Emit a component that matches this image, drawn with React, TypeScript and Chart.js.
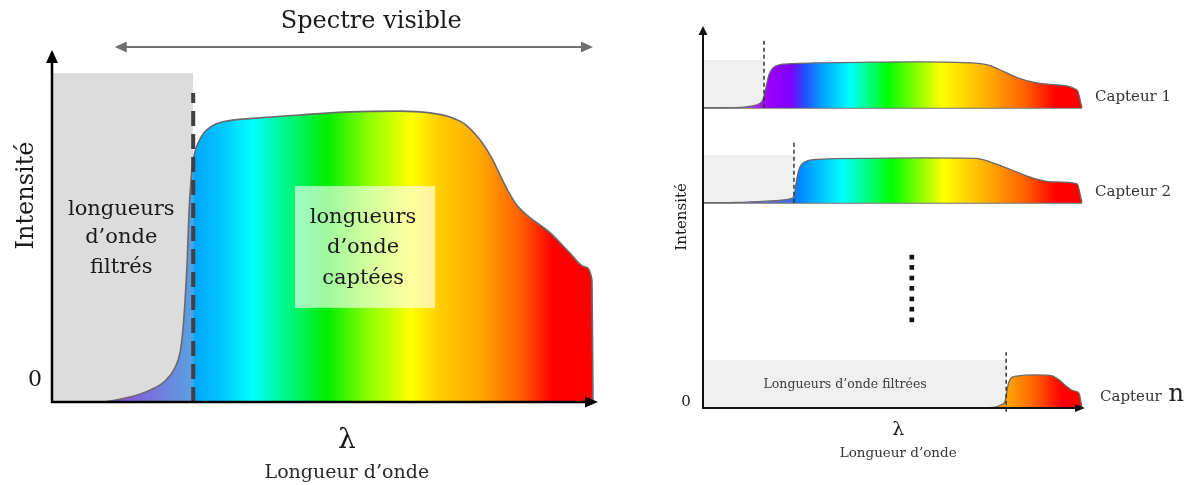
import React, { useEffect, useRef } from "react";
import { Chart, registerables } from "chart.js";
Chart.register(...registerables);

const SERIF = '"DejaVu Serif", "Liberation Serif", serif';

// ---------- LEFT PANEL DATA (relative wavelength 0-100, intensity 0-100) ----------
const leftCurveX = [9.8, 14.4, 18.1, 20.9, 22.7, 23.7, 24.2, 24.6, 25.0, 25.3, 25.7, 26.2, 27.0, 28.1, 29.6, 31.4, 37.9, 45.8, 55.1, 64.3, 69.9, 73.6, 76.3, 79.1, 81.3, 82.8, 84.3, 85.6, 86.9, 88.4, 92.1, 95.7, 98.5, 99.8, 100];
const leftCurveY = [0, 1.4, 3.4, 6.0, 9.7, 14.3, 20.6, 29.1, 40.6, 53.4, 63.4, 70.0, 74.0, 76.9, 78.9, 80.0, 81.1, 82.0, 82.9, 83.1, 82.6, 81.4, 79.4, 74.9, 69.7, 64.9, 60.3, 56.9, 54.6, 52.6, 48.3, 42.6, 38.6, 34.9, 0];
const leftGradStops = [9.8, 18.1, 25.5, 26.0, 26.4, 31.1, 37.0, 50.8, 58.8, 66.4, 71.7, 79.1, 86.5, 92.6, 100];
const leftGradColors = ["#8a45e0", "#7a72dc", "#5a9ee0", "#4aa4e8", "#00a6ff", "#00c4ff", "#00ffff", "#00ee00", "#90ff00", "#ffff00", "#ffcc00", "#ffa800", "#ff6000", "#ff0000", "#ff0000"];
const leftFilterEnd = 26.1;
const leftFilterTop = 94;
const leftCutoffTop = 88.3;
const leftSpectreFrom = 11.6;
const leftSpectreTo = 100;

// ---------- RIGHT PANEL DATA ----------
const sensorNames = ["Capteur 1", "Capteur 2", "Capteur "];
const sensorBaselines = [79, 54, 0];
const sensorCutoffs = [16.1, 24.0, 80.0];
const sensorCutoffTops = [17.9, 16.6, 14.7];
const sensorFilterTop = 12.6;

const sensor1X = [0, 10.0, 12.9, 14.8, 15.8, 16.6, 17.4, 18.5, 20.1, 23.0, 29.6, 44.1, 57.3, 71.0, 75.7, 79.4, 83.1, 86.8, 92.3, 98.7, 100];
const sensor1Y = [0, 0.1, 0.5, 1.05, 2.1, 5.3, 8.7, 10.5, 11.3, 11.6, 11.8, 12.0, 12.1, 11.8, 11.1, 9.5, 7.9, 6.8, 6.1, 4.7, 0];
const sensor2X = [0, 9.2, 17.7, 23.0, 24.0, 24.8, 25.6, 26.9, 29.6, 44.1, 57.3, 72.0, 75.7, 81.3, 86.8, 92.3, 98.7, 100];
const sensor2Y = [0, 0.1, 0.5, 1.05, 1.8, 6.6, 9.5, 10.8, 11.4, 11.7, 11.8, 11.7, 10.8, 8.7, 6.6, 5.5, 5.0, 0];
const sensorNX = [0, 75.7, 78.6, 79.7, 80.5, 81.3, 82.8, 87.6, 91.6, 93.7, 95.8, 97.9, 99.2, 100];
const sensorNY = [0, 0.1, 0.8, 1.8, 6.1, 7.9, 8.4, 8.7, 8.6, 7.6, 5.8, 4.5, 3.9, 0];

const sensor1Stops = [10.0, 16.6, 23.0, 26.6, 31.4, 38.8, 48.8, 62.8, 74.7, 85.0, 93.1, 100];
const sensor1Colors = ["#b070f0", "#a000ff", "#8000ff", "#2848ff", "#00a0ff", "#00ffff", "#00ff00", "#ffff00", "#ffb000", "#ff6000", "#ff0000", "#ff0000"];
const sensor2Stops = [9.8, 23.0, 24.8, 30.9, 36.7, 49.9, 63.6, 74.7, 85.0, 93.1, 100];
const sensor2Colors = ["#9070d0", "#4070e0", "#0080ff", "#00c0ff", "#00ffff", "#00ff00", "#ffff00", "#ffb000", "#ff6000", "#ff0000", "#ff0000"];
const sensorNStops = [78.4, 81.0, 87.6, 94.7, 100];
const sensorNColors = ["#ffa000", "#ffa000", "#ff6000", "#ff0000", "#ff0000"];

const dotsX = [55.1, 55.1, 55.1, 55.1, 55.1, 55.1, 55.1];
const dotsY = [39.7, 37.0, 34.2, 31.5, 28.7, 26.0, 23.2];

const pts = (xs: number[], ys: number[], base = 0) => xs.map((x, i) => ({ x, y: base + ys[i] }));

function makeGradient(chart: any, stops: number[], colors: string[]) {
  const { ctx, chartArea, scales } = chart;
  if (!chartArea) return colors[0];
  const sx = scales.x;
  const x0 = sx.getPixelForValue(sx.min);
  const x1 = sx.getPixelForValue(sx.max);
  const g = ctx.createLinearGradient(x0, 0, x1, 0);
  stops.forEach((s, i) => g.addColorStop(Math.min(1, Math.max(0, (s - sx.min) / (sx.max - sx.min))), colors[i]));
  return g;
}

function arrowHead(ctx: CanvasRenderingContext2D, tipX: number, tipY: number, dx: number, dy: number, len: number, half: number, color: string) {
  const bx = tipX - dx * len, by = tipY - dy * len;
  const px = -dy, py = dx;
  ctx.beginPath();
  ctx.moveTo(tipX, tipY);
  ctx.lineTo(bx + px * half, by + py * half);
  ctx.lineTo(bx - px * half, by - py * half);
  ctx.closePath();
  ctx.fillStyle = color;
  ctx.fill();
}

function text(ctx: CanvasRenderingContext2D, s: string, x: number, y: number, size: number, color = "#1a1a1a", align: CanvasTextAlign = "center", family = SERIF, weight = "normal") {
  ctx.font = `${weight} ${size}px ${family}`;
  ctx.fillStyle = color;
  ctx.textAlign = align;
  ctx.textBaseline = "middle";
  ctx.fillText(s, x, y);
}

const leftDecor = {
  id: "leftDecor",
  afterDatasetsDraw(chart: any) {
    const { ctx, chartArea: a, scales } = chart;
    const X = (v: number) => scales.x.getPixelForValue(v);
    const Y = (v: number) => scales.y.getPixelForValue(v);
    ctx.save();
    // translucent label box
    ctx.fillStyle = "rgba(255,255,255,0.62)";
    const bx0 = X(44.9), bx1 = X(70.8), by0 = Y(61.7), by1 = Y(26.9);
    ctx.fillRect(bx0, by0, bx1 - bx0, by1 - by0);
    ["longueurs", "d’onde", "captées"].forEach((s, i) => text(ctx, s, X(57.5), Y([52.6, 44.0, 35.4][i]), 21));
    ["longueurs", "d’onde", "filtrés"].forEach((s, i) => text(ctx, s, X(12.8), Y([54.9, 46.9, 38.3][i]), 21));
    // axes
    const x0 = X(0), y0 = Y(0);
    ctx.strokeStyle = "#000";
    ctx.lineWidth = 2.5;
    ctx.beginPath();
    ctx.moveTo(x0, y0 + 1);
    ctx.lineTo(x0, a.top + 8);
    ctx.moveTo(x0 - 1, y0);
    ctx.lineTo(a.right - 6, y0);
    ctx.stroke();
    arrowHead(ctx, x0, a.top - 2, 0, -1, 13, 6, "#000");
    arrowHead(ctx, a.right + 5, y0, 1, 0, 13, 5.5, "#000");
    // spectre visible arrow
    const sy = a.top - 5;
    const sx0 = X(leftSpectreFrom), sx1 = X(leftSpectreTo);
    ctx.strokeStyle = "#707070";
    ctx.lineWidth = 2;
    ctx.beginPath();
    ctx.moveTo(sx0 + 8, sy);
    ctx.lineTo(sx1 - 8, sy);
    ctx.stroke();
    arrowHead(ctx, sx0, sy, -1, 0, 12, 5.5, "#707070");
    arrowHead(ctx, sx1, sy, 1, 0, 12, 5.5, "#707070");
    text(ctx, "Spectre visible", X(59), 22, 24);
    // axis labels
    ctx.save();
    ctx.translate(a.left - 25, Y(59));
    ctx.rotate(-Math.PI / 2);
    text(ctx, "Intensité", 0, 0, 24);
    ctx.restore();
    text(ctx, "0", a.left - 10, y0 - 22, 22, "#1a1a1a", "right");
    text(ctx, "λ", X(54.5), y0 + 39, 28);
    text(ctx, "Longueur d’onde", X(54.5), y0 + 71, 19, "#2a2a2a");
    ctx.restore();
  },
};

const rightDecor = {
  id: "rightDecor",
  afterDatasetsDraw(chart: any) {
    const { ctx, chartArea: a, scales } = chart;
    const X = (v: number) => scales.x.getPixelForValue(v);
    const Y = (v: number) => scales.y.getPixelForValue(v);
    ctx.save();
    const x0 = X(0), y0 = Y(0);
    ctx.strokeStyle = "#111";
    ctx.lineWidth = 2;
    ctx.beginPath();
    ctx.moveTo(x0, y0 + 1);
    ctx.lineTo(x0, a.top + 6);
    ctx.moveTo(x0 - 1, y0);
    ctx.lineTo(a.right - 4, y0);
    ctx.stroke();
    arrowHead(ctx, x0, a.top - 2, 0, -1, 9, 4.5, "#111");
    arrowHead(ctx, a.right + 3, y0, 1, 0, 10, 4, "#111");
    ctx.save();
    ctx.translate(a.left - 21, Y(50.3));
    ctx.rotate(-Math.PI / 2);
    text(ctx, "Intensité", 0, 0, 15);
    ctx.restore();
    text(ctx, "0", a.left - 17, y0 - 6, 15);
    text(ctx, "λ", X(51.5), y0 + 22, 19);
    text(ctx, "Longueur d’onde", X(51.5), y0 + 45, 13.5, "#333");
    text(ctx, "Longueurs d’onde filtrées", X(37.5), Y(6.2), 12.5, "#3c3c3c");
    sensorNames.forEach((n, i) => {
      const yy = Y(sensorBaselines[i]) - 11;
      const xx = a.right + (i === 2 ? 18 : 13);
      text(ctx, n, xx, yy, 15, "#333", "left");
      if (i === 2) {
        ctx.font = `15px ${SERIF}`;
        const w = ctx.measureText(n).width;
        text(ctx, "n", xx + w + 2, yy - 2, 24, "#222", "left");
      }
    });
    ctx.restore();
  },
};

function baseOptions(pad: any) {
  return {
    responsive: false,
    animation: false as const,
    layout: { padding: pad },
    plugins: { legend: { display: false }, tooltip: { enabled: false }, title: { display: false } },
    elements: { point: { radius: 0 } },
    scales: {
      x: { type: "linear" as const, min: 0, max: 100, display: false },
      y: { type: "linear" as const, min: 0, max: 100, display: false },
    },
  };
}

export default function App() {
  const leftRef = useRef<HTMLCanvasElement>(null);
  const rightRef = useRef<HTMLCanvasElement>(null);

  useEffect(() => {
    const left = new Chart(leftRef.current!, {
      type: "line",
      data: {
        datasets: [
          {
            data: [{ x: 0, y: leftFilterTop }, { x: leftFilterEnd, y: leftFilterTop }],
            fill: "origin",
            backgroundColor: "#dcdcdc",
            borderWidth: 0,
            order: 3,
            clip: false,
          },
          {
            data: pts(leftCurveX, leftCurveY),
            fill: "origin",
            backgroundColor: (c: any) => makeGradient(c.chart, leftGradStops, leftGradColors),
            borderColor: "#6a6a6a",
            borderWidth: 1.6,
            cubicInterpolationMode: "monotone",
            order: 2,
            clip: false,
          },
          {
            data: [{ x: leftFilterEnd, y: 0 }, { x: leftFilterEnd, y: leftCutoffTop }],
            fill: false,
            borderColor: "#404040",
            borderWidth: 4,
            borderDash: [15, 8],
            order: 1,
            clip: false,
          },
        ],
      } as any,
      options: baseOptions({ left: 52, right: 27, top: 52, bottom: 83 }) as any,
      plugins: [leftDecor],
    });

    const curves = [
      { xs: sensor1X, ys: sensor1Y, stops: sensor1Stops, colors: sensor1Colors },
      { xs: sensor2X, ys: sensor2Y, stops: sensor2Stops, colors: sensor2Colors },
      { xs: sensorNX, ys: sensorNY, stops: sensorNStops, colors: sensorNColors },
    ];
    const ds: any[] = [];
    curves.forEach((c, i) => {
      const b = sensorBaselines[i];
      ds.push({
        data: [{ x: 0, y: b + sensorFilterTop }, { x: sensorCutoffs[i], y: b + sensorFilterTop }],
        fill: { value: b },
        backgroundColor: "#efefef",
        borderWidth: 0,
        order: 5,
        clip: false,
      });
      if (b > 0) {
        ds.push({
          data: [{ x: 0, y: b }, { x: 100, y: b }],
          fill: false,
          borderColor: "#707070",
          borderWidth: 1.8,
          order: 4,
          clip: false,
        });
      }
      ds.push({
        data: pts(c.xs, c.ys, b),
        fill: { value: b },
        backgroundColor: (ctx: any) => makeGradient(ctx.chart, c.stops, c.colors),
        borderColor: "#6a6a6a",
        borderWidth: 1.3,
        cubicInterpolationMode: "monotone",
        order: 3,
        clip: false,
      });
      ds.push({
        data: [{ x: sensorCutoffs[i], y: b - (b > 0 ? 0 : 1) }, { x: sensorCutoffs[i], y: b + sensorCutoffTops[i] }],
        fill: false,
        borderColor: "#333",
        borderWidth: 1.5,
        borderDash: [4, 3],
        order: 2,
        clip: false,
      });
    });
    ds.push({
      data: pts(dotsX, dotsY),
      showLine: false,
      pointStyle: "rect",
      pointRadius: 3.3,
      pointBackgroundColor: "#111",
      pointBorderWidth: 0,
      order: 1,
      clip: false,
    });

    const right = new Chart(rightRef.current!, {
      type: "line",
      data: { datasets: ds } as any,
      options: baseOptions({ left: 83, right: 107, top: 28, bottom: 77 }) as any,
      plugins: [rightDecor],
    });
    left.update();
    right.update();
    return () => {
      left.destroy();
      right.destroy();
    };
  }, []);

  return (
    <div style={{ position: "fixed", left: 0, top: 0, width: 1189, height: 485, background: "#fff" }}>
      <canvas ref={leftRef} width={620} height={485} style={{ position: "absolute", left: 0, top: 0 }} />
      <canvas ref={rightRef} width={569} height={485} style={{ position: "absolute", left: 620, top: 0 }} />
    </div>
  );
}
